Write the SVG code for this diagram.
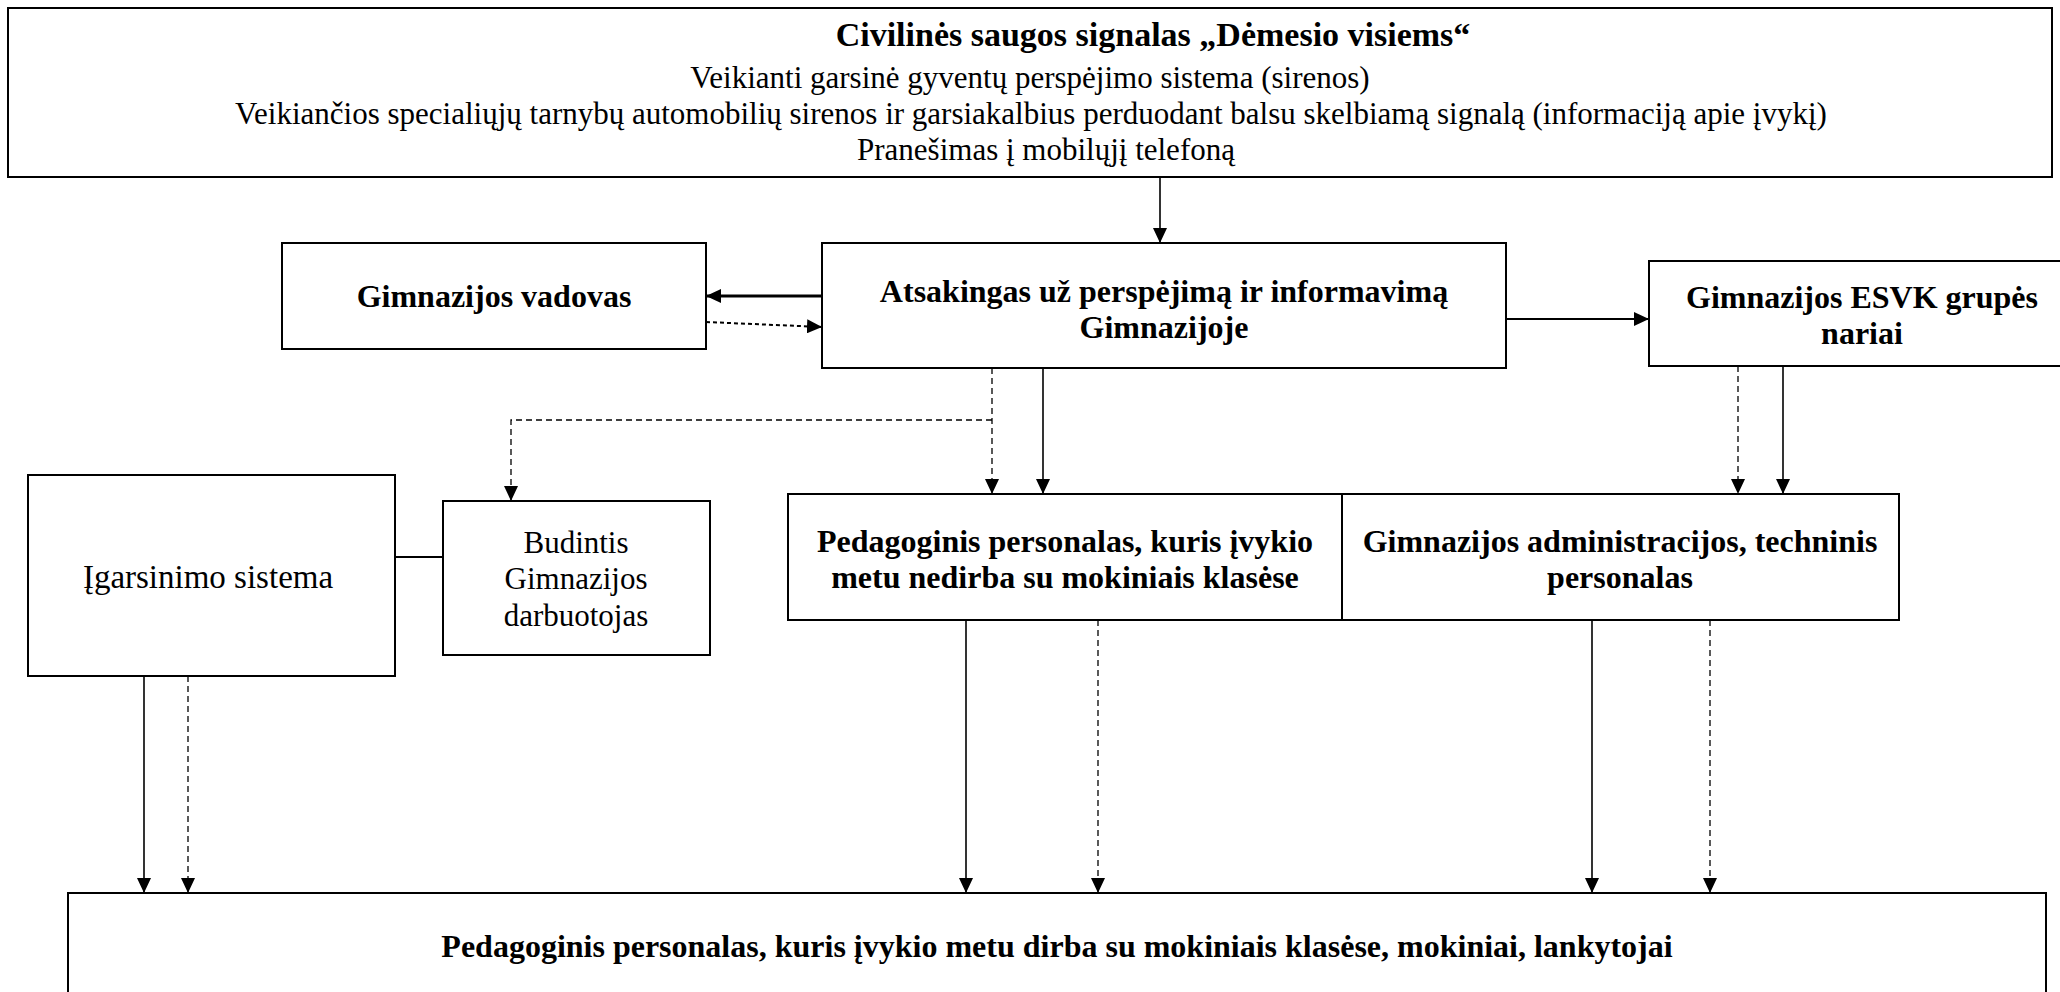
<svg xmlns="http://www.w3.org/2000/svg" width="2060" height="992" viewBox="0 0 2060 992">
<style>
.box{fill:#fff;stroke:#000;stroke-width:2}
.t{font-family:"Liberation Serif","Times New Roman",serif;font-size:31px;fill:#000;text-anchor:middle}
.b{font-family:"Liberation Serif","Times New Roman",serif;font-size:32px;font-weight:bold;fill:#000;text-anchor:middle}
.c{fill:none;stroke:#000;stroke-width:1.6}
.d{fill:none;stroke:#000;stroke-width:1.3;stroke-dasharray:6 4}
</style>
<defs>
<marker id="ah" markerUnits="userSpaceOnUse" markerWidth="16" markerHeight="14" refX="15" refY="7" orient="auto">
<path d="M0,0 L15,7 L0,14 z" fill="#000"/>
</marker>
</defs>
<rect width="2060" height="992" fill="#fff"/>
<g id="connectors">
<line class="c" x1="1160" y1="177" x2="1160" y2="243" marker-end="url(#ah)"/>
<line class="c" x1="822" y1="296" x2="706" y2="296" style="stroke-width:3" marker-end="url(#ah)"/>
<line class="d" x1="706" y1="322" x2="822" y2="327" style="stroke-width:2;stroke-dasharray:4 3" marker-end="url(#ah)"/>
<line class="c" x1="1506" y1="319" x2="1649" y2="319" style="stroke-width:2" marker-end="url(#ah)"/>
<line class="d" x1="992" y1="368" x2="992" y2="494" marker-end="url(#ah)"/>
<polyline class="d" points="992,420 511,420 511,501" marker-end="url(#ah)"/>
<line class="c" x1="1043" y1="368" x2="1043" y2="494" marker-end="url(#ah)"/>
<line class="d" x1="1738" y1="366" x2="1738" y2="494" marker-end="url(#ah)"/>
<line class="c" x1="1783" y1="366" x2="1783" y2="494" marker-end="url(#ah)"/>
<line class="c" x1="395" y1="557" x2="443" y2="557" style="stroke-width:2"/>
<line class="c" x1="144" y1="676" x2="144" y2="893" marker-end="url(#ah)"/>
<line class="d" x1="188" y1="676" x2="188" y2="893" marker-end="url(#ah)"/>
<line class="c" x1="966" y1="620" x2="966" y2="893" marker-end="url(#ah)"/>
<line class="d" x1="1098" y1="620" x2="1098" y2="893" marker-end="url(#ah)"/>
<line class="c" x1="1592" y1="620" x2="1592" y2="893" marker-end="url(#ah)"/>
<line class="d" x1="1710" y1="620" x2="1710" y2="893" marker-end="url(#ah)"/>
</g>
<g id="signal">
<rect class="box" x="8" y="8" width="2044" height="169"/>
<text class="b" x="1153" y="46" style="font-size:34px">Civilinės saugos signalas „Dėmesio visiems“</text>
<text class="t" x="1030" y="88">Veikianti garsinė gyventų perspėjimo sistema (sirenos)</text>
<text class="t" x="1031" y="124">Veikiančios specialiųjų tarnybų automobilių sirenos ir garsiakalbius perduodant balsu skelbiamą signalą (informaciją apie įvykį)</text>
<text class="t" x="1046" y="160">Pranešimas į mobilųjį telefoną</text>
</g>
<g id="vadovas">
<rect class="box" x="282" y="243" width="424" height="106"/>
<text class="b" x="494" y="307">Gimnazijos vadovas</text>
</g>
<g id="atsakingas">
<rect class="box" x="822" y="243" width="684" height="125"/>
<text class="b" x="1164" y="302">Atsakingas už perspėjimą ir informavimą</text>
<text class="b" x="1164" y="338">Gimnazijoje</text>
</g>
<g id="esvk">
<rect class="box" x="1649" y="261" width="430" height="105"/>
<text class="b" x="1862" y="308">Gimnazijos ESVK grupės</text>
<text class="b" x="1862" y="344">nariai</text>
</g>
<g id="igarsinimo">
<rect class="box" x="28" y="475" width="367" height="201"/>
<text class="t" x="208" y="588" style="font-size:33px">Įgarsinimo sistema</text>
</g>
<g id="budintis">
<rect class="box" x="443" y="501" width="267" height="154"/>
<text class="t" x="576" y="553">Budintis</text>
<text class="t" x="576" y="589">Gimnazijos</text>
<text class="t" x="576" y="626">darbuotojas</text>
</g>
<g id="pedagoginis">
<rect class="box" x="788" y="494" width="554" height="126"/>
<text class="b" x="1065" y="552">Pedagoginis personalas, kuris įvykio</text>
<text class="b" x="1065" y="588">metu nedirba su mokiniais klasėse</text>
</g>
<g id="administracija">
<rect class="box" x="1342" y="494" width="557" height="126"/>
<text class="b" x="1620" y="552">Gimnazijos administracijos, techninis</text>
<text class="b" x="1620" y="588">personalas</text>
</g>
<g id="mokiniai">
<rect class="box" x="68" y="893" width="1978" height="120"/>
<text class="b" x="1057" y="957">Pedagoginis personalas, kuris įvykio metu dirba su mokiniais klasėse, mokiniai, lankytojai</text>
</g>
</svg>
